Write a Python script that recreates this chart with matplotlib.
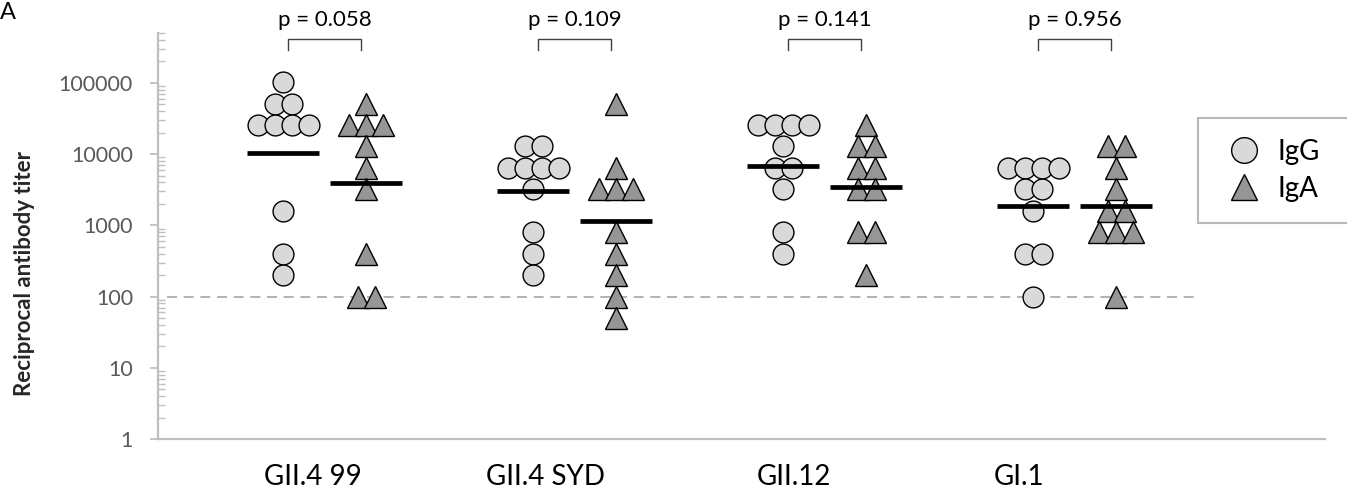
import numpy as np
import matplotlib
matplotlib.use('Agg')
import matplotlib.pyplot as plt
from matplotlib.lines import Line2D
from matplotlib.ticker import LogLocator, NullFormatter
import matplotlib.transforms as mtransforms

plt.rcParams['font.family'] = ['Lato', 'DejaVu Sans']

# ---------------- data ----------------
categories = ['GII.4 99', 'GII.4 SYD', 'GII.12', 'GI.1']
igg_titers = [
    [102400, 51200, 51200, 25600, 25600, 25600, 25600, 1600, 400, 200],
    [12800, 12800, 6400, 6400, 6400, 6400, 3200, 800, 400, 200],
    [25600, 25600, 25600, 25600, 12800, 6400, 6400, 3200, 800, 400],
    [6400, 6400, 6400, 6400, 3200, 3200, 1600, 400, 400, 100],
]
iga_titers = [
    [51200, 25600, 25600, 25600, 12800, 6400, 3200, 400, 100, 100],
    [51200, 6400, 3200, 3200, 3200, 800, 400, 200, 100, 50],
    [25600, 12800, 12800, 6400, 6400, 3200, 3200, 800, 800, 200],
    [12800, 12800, 6400, 3200, 1600, 1600, 800, 800, 800, 100],
]
p_values = ['p = 0.058', 'p = 0.109', 'p = 0.141', 'p = 0.956']
series_names = ['IgG', 'IgA']
ytick_values = [1, 10, 100, 1000, 10000, 100000]
ytick_labels = ['1', '10', '100', '1000', '10000', '100000']
detection_limit = 100

# ---------------- layout ----------------
W, H = 1347, 497
fig = plt.figure(figsize=(W / 100, H / 100), dpi=100)
ax_l, ax_r, ax_t, ax_b = 158, 1325, 33, 439
ax = fig.add_axes([ax_l / W, 1 - ax_b / H, (ax_r - ax_l) / W, (ax_b - ax_t) / H])

unit_px = 250.0           # pixels per category step
x_origin_px = 283.0       # pixel of first IgG column
ax.set_xlim((ax_l - x_origin_px) / unit_px, (ax_r - x_origin_px) / unit_px)
ax.set_yscale('log')
ax.set_ylim(1, 10 ** 5.7)

pair_offset = 0.333       # IgA column offset from IgG column
swarm_step = 17 / unit_px
label_dx = [0.12, 0.048, 0.044, -0.056]

circle_fc = '#d9d9d9'
tri_fc = '#969696'
axis_gray = '#bfbfbf'


def swarm(values, center, step):
    vals = np.asarray(values, dtype=float)
    xs = np.empty_like(vals)
    for v in np.unique(vals):
        idx = np.where(vals == v)[0]
        n = len(idx)
        xs[idx] = center + (np.arange(n) - (n - 1) / 2) * step
    return xs


tr = mtransforms.blended_transform_factory(ax.transData, ax.transAxes)
for i, cat in enumerate(categories):
    cg = i
    ca = i + pair_offset
    xg = swarm(igg_titers[i], cg, swarm_step)
    xa = swarm(iga_titers[i], ca, swarm_step)
    ax.plot(xg, igg_titers[i], 'o', ms=15, mfc=circle_fc, mec='black', mew=1.0,
            ls='none', zorder=3, clip_on=False)
    ax.plot(xa, iga_titers[i], '^', ms=15.5, mfc=tri_fc, mec='black', mew=1.0,
            ls='none', zorder=3, clip_on=False)
    for c, vals in ((cg, igg_titers[i]), (ca, iga_titers[i])):
        gm = 10 ** np.mean(np.log10(vals))
        ax.plot([c - 0.144, c + 0.144], [gm, gm], color='black', lw=3.4,
                solid_capstyle='butt', zorder=5)

    # bracket + p-value
    b_top = 1 - 6 / (ax_b - ax_t)
    b_bot = 1 - 17 / (ax_b - ax_t)
    ax.plot([cg + 0.02, cg + 0.02, ca - 0.02, ca - 0.02], [b_bot, b_top, b_top, b_bot],
            color='#404040', lw=1.0, transform=tr, clip_on=False)
    ax.text((cg + ca) / 2, 1 + 13 / (ax_b - ax_t), p_values[i], transform=tr,
            ha='center', va='center', fontsize=16, color='black')

    # category label
    ax.text(i + label_dx[i], -(477 - ax_b) / (ax_b - ax_t), cat, transform=tr,
            ha='center', va='center', fontsize=20, color='black')

# detection limit
ax.plot([(167 - x_origin_px) / unit_px, (1195 - x_origin_px) / unit_px],
        [detection_limit, detection_limit], color='#a6a6a6', lw=1.2,
        dashes=(6, 4), zorder=1)

# axes styling
for s in ('top', 'right'):
    ax.spines[s].set_visible(False)
for s in ('left', 'bottom'):
    ax.spines[s].set_color(axis_gray)
    ax.spines[s].set_linewidth(1.6)
ax.set_xticks([])
ax.set_yticks(ytick_values)
ax.set_yticklabels(ytick_labels)
ax.yaxis.set_minor_locator(LogLocator(base=10, subs=np.arange(2, 10)))
ax.yaxis.set_minor_formatter(NullFormatter())
ax.tick_params(axis='y', which='major', direction='out', length=6, width=1.3,
               color=axis_gray, labelcolor='#595959', labelsize=15.5, pad=12)
ax.tick_params(axis='y', which='minor', direction='in', length=5, width=1.0,
               color=axis_gray)

# y label
fig.text(25 / W, 1 - 274 / H, 'Reciprocal antibody titer', rotation=90,
         ha='center', va='center', fontsize=16, fontweight='bold', color='#262626')

# panel letter
fig.text(0, 1 - 2 / H, 'A', ha='left', va='top', fontsize=17, color='black')

# legend
handles = [
    Line2D([], [], marker='o', ls='none', ms=18.5, mfc=circle_fc, mec='black', mew=1.0),
    Line2D([], [], marker='^', ls='none', ms=18.5, mfc=tri_fc, mec='black', mew=1.0),
]
lx0, lx1, ly0, ly1 = 1198, 1370, 118, 220
leg = fig.legend(handles, series_names, loc='upper left',
                 bbox_to_anchor=(lx0 / W, 1 - ly1 / H, (lx1 - lx0) / W, (ly1 - ly0) / H),
                 bbox_transform=fig.transFigure, mode='expand', borderaxespad=0,
                 fontsize=20, frameon=True, fancybox=False, edgecolor='#a6a6a6',
                 borderpad=0.75, handlelength=1.8, handletextpad=0.3, labelspacing=0.4)
leg.get_frame().set_linewidth(1.5)

fig.savefig('out.png', dpi=100)
